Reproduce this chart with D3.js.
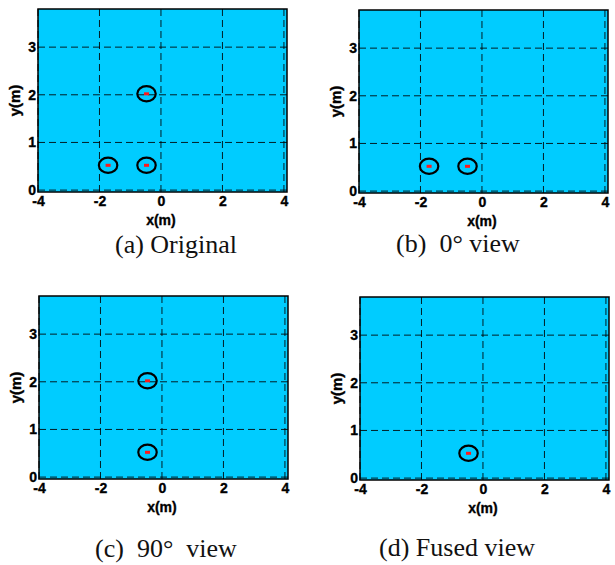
<!DOCTYPE html>
<html>
<head>
<meta charset="utf-8">
<script src="https://cdn.jsdelivr.net/npm/d3@7"></script>
<style>
  body { margin: 0; background: #fff; }
  svg { display: block; }
</style>
</head>
<body>
<div id="chart"></div>
<script>
// values
const panelNames = ['a', 'b', 'c', 'd'];
const captions = ['(a) Original', '(b)  0° view', '(c)  90°  view', '(d) Fused view'];
const xTicks = [-4, -2, 0, 2, 4];
const yTicks = [0, 1, 2, 3];
const xDomain = [-4, 4.1];
const yDomain = [-0.04, 3.8];

// detected targets per panel (x, y in metres)
const targetsA = [[-1.72, 0.52], [-0.47, 0.52], [-0.47, 2.02]];
const targetsB = [[-1.72, 0.52], [-0.47, 0.52]];
const targetsC = [[-0.47, 0.52], [-0.47, 2.02]];
const targetsD = [[-0.47, 0.52]];
const targets = [targetsA, targetsB, targetsC, targetsD];

const W = 615;
const H = 565;
const plotW = 249;
const plotH = 183;
const panelPos = [
  { left: 38, top: 9, capX: 176, capY: 253 },
  { left: 359, top: 10, capX: 458, capY: 252 },
  { left: 39, top: 296, capX: 166, capY: 557 },
  { left: 360, top: 297, capX: 457, capY: 556 },
];
const sans = "'Liberation Sans', Arial, sans-serif";

const svg = d3.select('#chart').append('svg')
  .attr('width', W)
  .attr('height', H);

const x = d3.scaleLinear().domain(xDomain).range([0, plotW]);
const y = d3.scaleLinear().domain(yDomain).range([plotH, 0]);

const boldText = sel => sel
  .attr('font-family', sans)
  .attr('font-weight', 'bold')
  .attr('font-size', 14)
  .attr('fill', '#000')
  .attr('stroke', '#000')
  .attr('stroke-width', 0.35);

panelNames.forEach((name, i) => {
  const pos = panelPos[i];
  const g = svg.append('g')
    .attr('id', `panel-${name}`)
    .attr('transform', `translate(${pos.left},${pos.top})`);

  g.append('rect')
    .attr('width', plotW)
    .attr('height', plotH)
    .attr('fill', '#00ccff');

  // grid
  g.append('g')
    .selectAll('line')
    .data(xTicks)
    .join('line')
    .attr('x1', d => x(d)).attr('x2', d => x(d))
    .attr('y1', 0).attr('y2', plotH)
    .attr('stroke', '#000')
    .attr('stroke-width', 1)
    .attr('stroke-dasharray', '7,4')
    .attr('opacity', 0.85);

  g.append('g')
    .selectAll('line')
    .data(yTicks)
    .join('line')
    .attr('x1', 0).attr('x2', plotW)
    .attr('y1', d => y(d)).attr('y2', d => y(d))
    .attr('stroke', '#000')
    .attr('stroke-width', 1)
    .attr('stroke-dasharray', '7,4')
    .attr('opacity', 0.85);

  // frame
  g.append('rect')
    .attr('width', plotW)
    .attr('height', plotH)
    .attr('fill', 'none')
    .attr('stroke', '#000')
    .attr('stroke-width', 1.5);

  // axes (labels only)
  const xAxis = g.append('g')
    .attr('transform', `translate(0,${plotH})`)
    .call(d3.axisBottom(x).tickValues(xTicks).tickFormat(d => String(d)).tickSize(0).tickPadding(4));
  xAxis.select('.domain').remove();

  const yAxis = g.append('g')
    .call(d3.axisLeft(y).tickValues(yTicks).tickFormat(d => String(d)).tickSize(0).tickPadding(2));
  yAxis.select('.domain').remove();

  g.selectAll('.tick text').call(boldText);

  g.append('text')
    .attr('x', x(0))
    .attr('y', plotH + 33)
    .attr('text-anchor', 'middle')
    .call(boldText)
    .text('x(m)');

  g.append('text')
    .attr('transform', `translate(${-18},${plotH / 2}) rotate(-90)`)
    .attr('text-anchor', 'middle')
    .call(boldText)
    .attr('font-size', 15)
    .text('y(m)');

  // targets: black ellipse with red centre mark
  const t = g.append('g')
    .selectAll('g')
    .data(targets[i])
    .join('g')
    .attr('class', 'target');

  t.append('ellipse')
    .attr('cx', d => x(d[0]))
    .attr('cy', d => y(d[1]))
    .attr('rx', x(0.3) - x(0))
    .attr('ry', y(0) - y(0.16))
    .attr('fill', 'none')
    .attr('stroke', '#000')
    .attr('stroke-width', 2.2);

  t.append('rect')
    .attr('x', d => x(d[0]) - 2.5)
    .attr('y', d => y(d[1]) - 1.5)
    .attr('width', 5)
    .attr('height', 3)
    .attr('fill', '#ff1a1a');

  svg.append('text')
    .attr('x', pos.capX)
    .attr('y', pos.capY)
    .attr('text-anchor', 'middle')
    .attr('font-family', "'Liberation Serif', 'Times New Roman', serif")
    .attr('font-size', 26)
    .style('white-space', 'pre')
    .attr('fill', '#111')
    .text(captions[i]);
});
</script>
</body>
</html>
